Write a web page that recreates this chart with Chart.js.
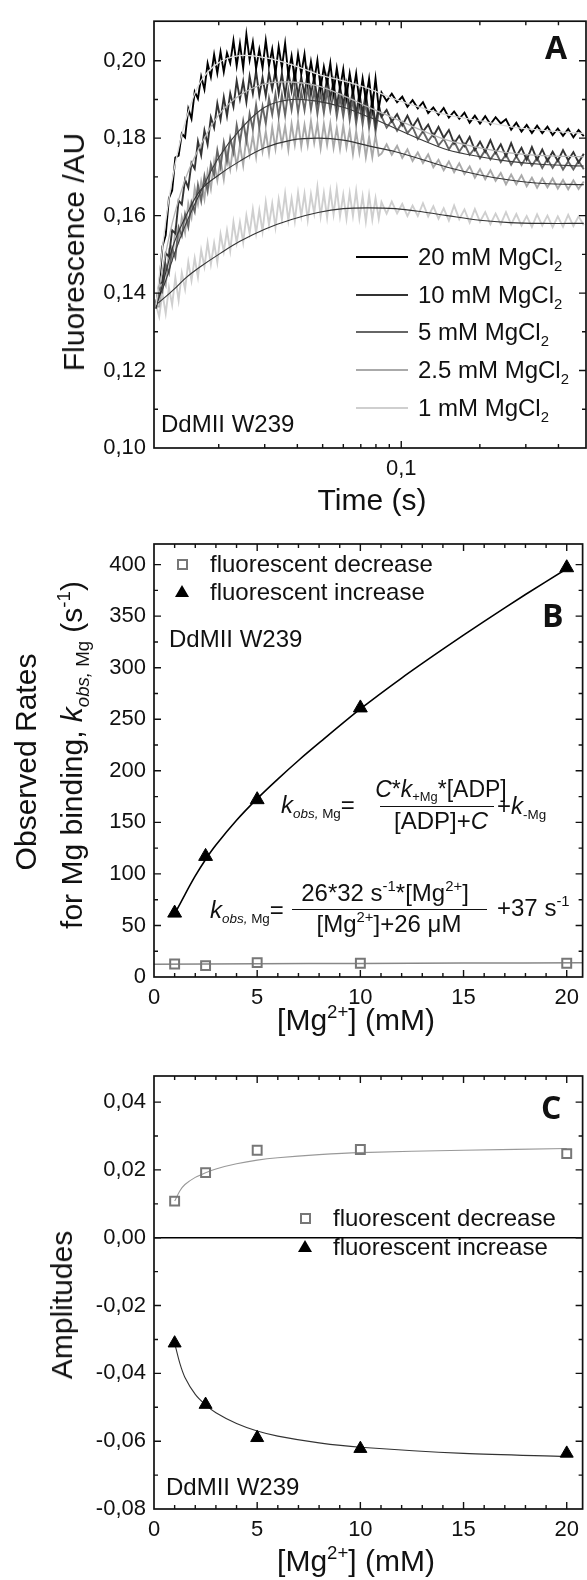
<!DOCTYPE html>
<html><head><meta charset="utf-8">
<script src="https://cdn.jsdelivr.net/npm/chart.js@4.4.0/dist/chart.umd.min.js"></script>
<style>
html,body{margin:0;padding:0;background:#fff;}
body{width:587px;height:1580px;position:relative;overflow:hidden;font-family:'Liberation Sans',Arial,sans-serif;color:#111;}
canvas{position:absolute;left:0;}
.t{position:absolute;white-space:nowrap;line-height:1;}
sub,sup{font-size:0.62em;line-height:0;position:relative;vertical-align:baseline;}
sup{top:-0.62em;} sub{top:0.38em;}
.eq sub{font-size:0.56em;}
</style></head><body>
<canvas id="cA" width="587" height="520" style="top:0px"></canvas>
<canvas id="cB" width="587" height="520" style="top:520px"></canvas>
<canvas id="cC" width="587" height="540" style="top:1040px"></canvas>
<script>
// ---------- Panel A: stopped-flow traces ----------
const timeA = [
0.01150,0.01183,0.01217,0.01253,0.01289,0.01326,0.01364,0.01404,0.01444,0.01486,
0.01529,0.01573,0.01618,0.01665,0.01713,0.01763,0.01813,0.01866,0.01920,0.01975,
0.02032,0.02091,0.02151,0.02213,0.02277,0.02343,0.02411,0.02481,0.02552,0.02626,
0.02702,0.02780,0.02860,0.02943,0.03028,0.03115,0.03205,0.03298,0.03393,0.03491,
0.03591,0.03695,0.03802,0.03912,0.04025,0.04141,0.04261,0.04384,0.04510,0.04641,
0.04774,0.04912,0.05054,0.05200,0.05350,0.05505,0.05664,0.05827,0.05996,0.06169,
0.06347,0.06531,0.06719,0.06913,0.07113,0.07318,0.07530,0.07747,0.07971,0.08201,
0.0840,0.0879,0.0920,0.0964,0.1009,0.1056,0.1105,0.1157,0.1211,0.1268,
0.1327,0.1389,0.1454,0.1522,0.1594,0.1668,0.1746,0.1828,0.1914,0.2003,
0.2097,0.2195,0.2298,0.2405,0.2518,0.2636,0.2759,0.2888,0.3023,0.3165,
0.3313,0.3468,0.3630,0.3800,0.3978,0.4164,0.4359,0.4563,0.4777,0.5000];
const trace20 = [
.1370,.1420,.1520,.1550,.1645,.1665,.1750,.1755,.1812,.1802,
.1876,.1850,.1920,.1902,.1959,.1926,.1993,.1958,.2016,.1968,
.2023,.1971,.2020,.1994,.2052,.1987,.2044,.1981,.2068,.2002,
.2048,.1980,.2029,.1982,.2052,.1987,.2030,.1967,.2036,.1983,
.2045,.1963,.2012,.1950,.2017,.1966,.2017,.1943,.1998,.1947,
.2001,.1930,.1984,.1941,.1994,.1919,.1981,.1927,.1978,.1907,
.1967,.1914,.1967,.1894,.1954,.1898,.1953,.1878,.1954,.1877,
.1918,.1896,.1915,.1893,.1907,.1881,.1898,.1877,.1893,.1865,
.1879,.1860,.1878,.1853,.1869,.1850,.1866,.1840,.1858,.1838,
.1857,.1836,.1854,.1838,.1849,.1822,.1840,.1817,.1834,.1813,
.1832,.1813,.1830,.1808,.1825,.1806,.1824,.1802,.1821,.1805];
const trace10 = [
.1370,.1424,.1428,.1503,.1494,.1562,.1554,.1639,.1629,.1693,
.1672,.1736,.1721,.1792,.1756,.1820,.1784,.1854,.1827,.1890,
.1848,.1906,.1857,.1916,.1881,.1948,.1901,.1947,.1893,.1960,
.1915,.1973,.1910,.1957,.1909,.1969,.1927,.1975,.1915,.1967,
.1910,.1972,.1922,.1972,.1908,.1958,.1911,.1971,.1912,.1959,
.1896,.1951,.1898,.1957,.1903,.1947,.1883,.1934,.1885,.1939,
.1875,.1926,.1861,.1917,.1863,.1918,.1850,.1900,.1834,.1886,
.1855,.1873,.1843,.1862,.1833,.1858,.1829,.1850,.1817,.1835,
.1805,.1829,.1801,.1821,.1786,.1806,.1780,.1803,.1769,.1791,
.1765,.1795,.1762,.1784,.1753,.1787,.1753,.1775,.1744,.1777,
.1744,.1771,.1741,.1765,.1741,.1769,.1743,.1764,.1737,.1760];
const trace5 = [
.1360,.1418,.1404,.1474,.1451,.1515,.1492,.1570,.1548,.1604,
.1571,.1634,.1610,.1679,.1638,.1702,.1663,.1733,.1705,.1769,
.1726,.1788,.1740,.1800,.1763,.1834,.1789,.1844,.1794,.1863,
.1823,.1886,.1828,.1882,.1838,.1903,.1861,.1914,.1856,.1912,
.1859,.1923,.1873,.1928,.1867,.1919,.1872,.1932,.1874,.1924,
.1863,.1918,.1865,.1923,.1871,.1918,.1856,.1906,.1856,.1910,
.1847,.1900,.1837,.1891,.1836,.1893,.1827,.1876,.1817,.1868,
.1856,.1827,.1846,.1819,.1841,.1813,.1829,.1798,.1818,.1792,
.1811,.1781,.1798,.1771,.1792,.1765,.1785,.1757,.1774,.1748,
.1769,.1745,.1765,.1738,.1758,.1731,.1753,.1731,.1753,.1729,
.1749,.1723,.1746,.1723,.1744,.1719,.1740,.1719,.1741,.1720];
const trace25 = [
.1365,.1365,.1440,.1420,.1508,.1488,.1562,.1534,.1595,.1556,
.1631,.1596,.1671,.1630,.1688,.1643,.1713,.1669,.1739,.1691,
.1744,.1694,.1764,.1720,.1784,.1727,.1782,.1730,.1803,.1757,
.1807,.1752,.1825,.1766,.1817,.1761,.1828,.1773,.1839,.1783,
.1831,.1770,.1837,.1783,.1844,.1779,.1834,.1782,.1844,.1788,
.1838,.1774,.1837,.1783,.1838,.1775,.1826,.1772,.1832,.1776,
.1821,.1759,.1817,.1762,.1815,.1751,.1803,.1751,.1808,.1755,
.1760,.1784,.1757,.1780,.1749,.1771,.1741,.1763,.1736,.1758,
.1725,.1744,.1717,.1740,.1712,.1735,.1707,.1727,.1698,.1720,
.1694,.1717,.1690,.1710,.1681,.1706,.1681,.1704,.1676,.1698,
.1672,.1696,.1673,.1696,.1670,.1692,.1668,.1691,.1669,.1688];
const trace1 = [
.1370,.1339,.1400,.1347,.1414,.1370,.1440,.1381,.1452,.1410,
.1480,.1432,.1490,.1441,.1511,.1468,.1530,.1474,.1529,.1479,
.1552,.1507,.1562,.1509,.1583,.1530,.1583,.1531,.1600,.1554,
.1616,.1555,.1614,.1559,.1635,.1576,.1631,.1570,.1642,.1590,
.1657,.1587,.1644,.1586,.1659,.1599,.1656,.1589,.1655,.1606,
.1674,.1598,.1658,.1595,.1664,.1603,.1669,.1598,.1654,.1592,
.1658,.1599,.1664,.1593,.1650,.1585,.1653,.1590,.1645,.1592,
.1635,.1605,.1636,.1606,.1630,.1599,.1626,.1599,.1632,.1598,
.1624,.1592,.1619,.1587,.1626,.1591,.1616,.1582,.1617,.1584,
.1609,.1578,.1605,.1578,.1609,.1577,.1604,.1574,.1599,.1571,
.1603,.1574,.1600,.1570,.1598,.1571,.1602,.1573,.1598,.1575];
const timeFit = [0.0115,0.0125,0.0135,0.015,0.017,0.02,0.024,0.03,0.038,0.048,0.06,0.075,0.095,0.12,0.15,0.2,0.26,0.35,0.5];
const fit20 = [.137,.158,.172,.185,.1945,.1995,.2013,.2008,.1990,.1965,.1948,.1928,.1900,.1878,.1860,.1845,.1830,.1820,.1812];
const fit10 = [.137,.150,.160,.170,.178,.186,.191,.194,.1945,.1935,.1910,.1880,.1850,.1820,.1795,.1775,.1762,.1755,.1752];
const fit5  = [.137,.143,.150,.158,.166,.175,.182,.188,.190,.1895,.1880,.1855,.1825,.1795,.1770,.1752,.1740,.1732,.1728];
const fit25 = [.136,.145,.153,.160,.1665,.1705,.1740,.1775,.1795,.1800,.1795,.1780,.1765,.1745,.1725,.1705,.1692,.1683,.1680];
const fit1  = [.137,.139,.141,.144,.1468,.150,.1533,.1565,.1590,.1608,.1618,.1620,.1618,.1610,.1600,.1588,.1582,.1580,.1580];
const xTicksA = [0.02,0.03,0.04,0.05,0.06,0.07,0.08,0.09,0.1,0.2,0.3,0.4];
const yTicksA = [0.10,0.11,0.12,0.13,0.14,0.15,0.16,0.17,0.18,0.19,0.20];

// ---------- Panel B: observed rates ----------
const mgConc = [1, 2.5, 5, 10, 20];
const rateDecrease = [12.6, 11.0, 13.9, 13.3, 13.3];
const rateIncrease = [62, 117, 172, 261, 397];
const rateIncFitX = [1,1.5,2,2.5,3,4,5,6,7,8,10,12,14,16,18,20];
const rateIncFitY = [61,80,98,114,128,152,173,192,210,227,260,290,318,345,371,396];
const rateDecFitX = [0,5,10,15,20.77];
const rateDecFitY = [12.4,12.9,13.2,13.5,13.8];
const yTicksB = [0,25,50,75,100,125,150,175,200,225,250,275,300,325,350,375,400];
const xTicksBC = [0,1,2,3,4,5,6,7,8,9,10,11,12,13,14,15,16,17,18,19,20];

// ---------- Panel C: amplitudes ----------
const ampDecrease = [0.0108, 0.0192, 0.0258, 0.0260, 0.0248];
const ampIncrease = [-0.0311, -0.0492, -0.0590, -0.0622, -0.0636];
const ampFitX = [1,1.25,1.5,2,2.5,3,4,5,6,8,10,15,20];
const ampDecFitY = [.0108,.0138,.0157,.0178,.0192,.0203,.0218,.0229,.0236,.0245,.0251,.0258,.0263];
const ampIncFitY = [-.0311,-.0370,-.0412,-.0462,-.0493,-.0516,-.0548,-.0570,-.0585,-.0605,-.0618,-.0636,-.0645];
const zeroLineX = [0, 20.77];
const zeroLineY = [0, 0];
const yTicksC = [-0.08,-0.07,-0.06,-0.05,-0.04,-0.03,-0.02,-0.01,0,0.01,0.02,0.03,0.04];

// ---------- helpers ----------
const FONT = "'Liberation Sans', Arial, sans-serif";
const xy = (xs, ys) => xs.map((x, i) => ({x: x, y: ys[i]}));
const comma = v => v.toFixed(2).replace('.', ',');

const frameTicks = {
  id: 'frameTicks',
  afterDatasetsDraw(chart) {
    const ctx = chart.ctx, a = chart.chartArea;
    ctx.save();
    ctx.strokeStyle = '#111';
    ctx.lineWidth = 1.7;
    ctx.strokeRect(a.left, a.top, a.right - a.left, a.bottom - a.top);
    ctx.lineWidth = 1.4;
    ctx.beginPath();
    const xs = chart.scales.x, ys = chart.scales.y;
    xs.ticks.forEach(t => {
      const p = xs.getPixelForValue(t.value);
      if (p < a.left + 1 || p > a.right - 1) return;
      const L = (t.label !== '' && t.label != null) ? 7 : 4;
      ctx.moveTo(p, a.bottom); ctx.lineTo(p, a.bottom - L);
      ctx.moveTo(p, a.top); ctx.lineTo(p, a.top + L);
    });
    ys.ticks.forEach(t => {
      const p = ys.getPixelForValue(t.value);
      if (p < a.top + 1 || p > a.bottom - 1) return;
      const L = (t.label !== '' && t.label != null) ? 7 : 4;
      ctx.moveTo(a.left, p); ctx.lineTo(a.left + L, p);
      ctx.moveTo(a.right, p); ctx.lineTo(a.right - L, p);
    });
    ctx.stroke();
    ctx.restore();
  }
};

function axisCommon(extra) {
  return Object.assign({
    grid: {display: false, drawTicks: false},
    border: {display: false},
  }, extra);
}
function tickFont() { return {family: FONT, size: 22}; }

function makeChart(id, datasets, xOpt, yOpt, padTop, xH) {
  return new Chart(document.getElementById(id), {
    type: 'scatter',
    data: {datasets: datasets},
    options: {
      responsive: false, animation: false, devicePixelRatio: 1, events: [],
      layout: {autoPadding: false, padding: {left: 0, top: padTop, right: 1, bottom: 0}},
      plugins: {legend: {display: false}, tooltip: {enabled: false}},
      scales: {
        x: axisCommon(Object.assign({afterFit: s => { s.height = xH; }}, xOpt)),
        y: axisCommon(Object.assign({afterFit: s => { s.width = 154; }}, yOpt))
      }
    },
    plugins: [frameTicks]
  });
}
const lineDS = (xs, ys, color, w, tension) => ({
  data: xy(xs, ys), showLine: true, borderColor: color, borderWidth: w,
  pointRadius: 0, tension: tension || 0, fill: false, borderJoinStyle: 'miter'
});

// ---------- Chart A ----------
makeChart('cA', [
  lineDS(timeFit, fit20, '#dcdcdc', 1.3, 0.35),
  lineDS(timeFit, fit10, '#b4b4b4', 1.3, 0.35),
  lineDS(timeFit, fit5, '#3a3a3a', 1.1, 0.35),
  lineDS(timeFit, fit25, '#333', 1.1, 0.35),
  lineDS(timeFit, fit1, '#333', 1.1, 0.35),
  lineDS(timeA, trace20, '#000', 1.9),
  lineDS(timeA, trace10, '#333', 1.9),
  lineDS(timeA, trace5, '#666', 1.9),
  lineDS(timeA, trace25, '#aaa', 1.9),
  lineDS(timeA, trace1, '#cfcfcf', 1.9)
], {
  type: 'logarithmic', min: 0.0113, max: 0.51,
  afterBuildTicks: s => { s.ticks = xTicksA.map(v => ({value: v})); },
  ticks: {autoSkip: false, maxRotation: 0, padding: 8, color: '#111', font: tickFont(),
    callback: v => Math.abs(v - 0.1) < 1e-9 ? '0,1' : ''}
}, {
  min: 0.10, max: 0.2102,
  afterBuildTicks: s => { s.ticks = yTicksA.map(v => ({value: v})); },
  ticks: {autoSkip: false, padding: 8, color: '#111', font: tickFont(),
    callback: v => (Math.round(v * 100) % 2 === 0 ? comma(v) : '')}
}, 14, 72);

// ---------- Chart B ----------
makeChart('cB', [
  {data: xy(mgConc, rateIncrease), pointStyle: 'triangle', pointRadius: 8, backgroundColor: '#000', borderColor: '#000', borderWidth: 1},
  {data: xy(mgConc, rateDecrease), pointStyle: 'rect', pointRadius: 6.3, backgroundColor: 'rgba(0,0,0,0)', borderColor: '#777', borderWidth: 2},
  lineDS(rateIncFitX, rateIncFitY, '#000', 1.6, 0.3),
  lineDS(rateDecFitX, rateDecFitY, '#888', 1.5, 0.3)
], {
  type: 'linear', min: 0, max: 20.77,
  afterBuildTicks: s => { s.ticks = xTicksBC.map(v => ({value: v})); },
  ticks: {autoSkip: false, maxRotation: 0, padding: 8, color: '#111', font: tickFont(),
    callback: v => (v % 5 === 0 ? String(v) : '')}
}, {
  min: 0, max: 420,
  afterBuildTicks: s => { s.ticks = yTicksB.map(v => ({value: v})); },
  ticks: {autoSkip: false, padding: 8, color: '#111', font: tickFont(),
    callback: v => (v % 50 === 0 ? String(v) : '')}
}, 24, 63);

// ---------- Chart C ----------
makeChart('cC', [
  {data: xy(mgConc, ampIncrease), pointStyle: 'triangle', pointRadius: 7.5, backgroundColor: '#000', borderColor: '#000', borderWidth: 1},
  {data: xy(mgConc, ampDecrease), pointStyle: 'rect', pointRadius: 6.3, backgroundColor: 'rgba(0,0,0,0)', borderColor: '#777', borderWidth: 2},
  lineDS(ampFitX, ampIncFitY, '#333', 1.1, 0.3),
  lineDS(ampFitX, ampDecFitY, '#999', 1.1, 0.3),
  lineDS(zeroLineX, zeroLineY, '#000', 1.5)
], {
  type: 'linear', min: 0, max: 20.77,
  afterBuildTicks: s => { s.ticks = xTicksBC.map(v => ({value: v})); },
  ticks: {autoSkip: false, maxRotation: 0, padding: 8, color: '#111', font: tickFont(),
    callback: v => (v % 5 === 0 ? String(v) : '')}
}, {
  min: -0.08, max: 0.0477,
  afterBuildTicks: s => { s.ticks = yTicksC.map(v => ({value: v})); },
  ticks: {autoSkip: false, padding: 8, color: '#111', font: tickFont(),
    callback: v => (Math.round(v * 100) % 2 === 0 ? comma(v) : '')}
}, 36, 71);

// ---------- text annotations (HTML) ----------
function txt(html, x, base, size, o) {
  o = o || {};
  const d = document.createElement('div');
  d.className = 't' + (o.cls ? ' ' + o.cls : '');
  d.innerHTML = html;
  d.style.fontSize = size + 'px';
  d.style.left = x + 'px';
  d.style.top = (base - 0.8465 * size) + 'px';
  if (o.center) d.style.transform = 'translateX(-50%)';
  document.body.appendChild(d);
  return d;
}
function rot(html, cx, cy, size) {
  const d = document.createElement('div');
  d.className = 't';
  d.innerHTML = html;
  d.style.fontSize = size + 'px';
  d.style.left = cx + 'px';
  d.style.top = cy + 'px';
  d.style.transform = 'translate(-50%,-50%) rotate(-90deg)';
  document.body.appendChild(d);
}
function box(x, y, w, h, css) {
  const d = document.createElement('div');
  d.style.position = 'absolute';
  d.style.left = x + 'px'; d.style.top = y + 'px';
  d.style.width = w + 'px'; d.style.height = h + 'px';
  Object.assign(d.style, css || {});
  document.body.appendChild(d);
}
function square(cx, cy) { box(cx - 5.5, cy - 5.5, 7, 7, {border: '2px solid #777'}); }
function tri(cx, cy) { box(cx - 7, cy - 7, 0, 0, {borderLeft: '7px solid transparent', borderRight: '7px solid transparent', borderBottom: '12px solid #000'}); }

// axis titles
rot('Fluorescence /AU', 74, 252, 30);
txt('Time (s)', 372, 510, 30, {center: true});
rot('Observed Rates', 26, 762, 30);
rot('for Mg binding, <i>k</i><sub><i>obs,</i> Mg</sub> (s<sup>-1</sup>)', 72, 755, 30);
txt('[Mg<sup>2+</sup>] (mM)', 356, 1030, 30, {center: true});
rot('Amplitudes', 62, 1305, 30);
txt('[Mg<sup>2+</sup>] (mM)', 356, 1571, 30, {center: true});

// panel letters
const LET = "'Open Sans', 'DejaVu Sans', sans-serif";
function letter(s, x, capTop) {
  const d = document.createElement('div');
  d.className = 't'; d.textContent = s;
  d.style.fontFamily = LET; d.style.fontWeight = '700'; d.style.fontSize = '32px';
  d.style.left = x + 'px'; d.style.top = (capTop - 5.6) + 'px';
  document.body.appendChild(d);
}
letter('A', 545, 37);
letter('B', 542, 605);
letter('C', 541, 1097);

// sample labels
txt('DdMII W239', 161, 432, 24);
txt('DdMII W239', 169, 647, 24);
txt('DdMII W239', 166, 1495, 24);

// legend A
const legA = ['20 mM MgCl<sub>2</sub>', '10 mM MgCl<sub>2</sub>', '5 mM MgCl<sub>2</sub>', '2.5 mM MgCl<sub>2</sub>', '1 mM MgCl<sub>2</sub>'];
const legAColors = ['#000', '#333', '#666', '#aaa', '#cfcfcf'];
const legAY = [257.3, 295, 332.3, 370, 407.7];
legA.forEach((s, i) => {
  box(356, legAY[i] - 1, 52, 2, {background: legAColors[i]});
  txt(s, 418, legAY[i] + 8.5, 24);
});

// legend B
square(182, 564); txt('fluorescent decrease', 210, 572, 24);
tri(182, 592); txt('fluorescent increase', 210, 600, 24);
// legend C
square(305, 1218); txt('fluorescent decrease', 333, 1226, 24);
tri(305, 1247); txt('fluorescent increase', 333, 1255, 24);

// equation 1
txt('<i>k</i><sub><i>obs,</i> Mg</sub>=', 281, 813, 24, {cls: 'eq'});
txt('<i>C</i>*<i>k</i><sub>+Mg</sub>*[ADP]', 441, 797, 23, {center: true, cls: 'eq'});
box(380, 806, 114, 1.3, {background: '#111'});
txt('[ADP]+<i>C</i>', 441, 829, 24, {center: true, cls: 'eq'});
txt('+<i>k</i><sub>-Mg</sub>', 497, 814, 24, {cls: 'eq'});
// equation 2
txt('<i>k</i><sub><i>obs,</i> Mg</sub>=', 210, 918, 24, {cls: 'eq'});
txt('26*32 s<sup>-1</sup>*[Mg<sup>2+</sup>]', 385, 901, 24, {center: true});
box(292, 909, 195, 1.3, {background: '#111'});
txt('[Mg<sup>2+</sup>]+26 &mu;M', 389, 932, 24, {center: true});
txt('+37 s<sup>-1</sup>', 497, 916, 24);
</script>
</body></html>
